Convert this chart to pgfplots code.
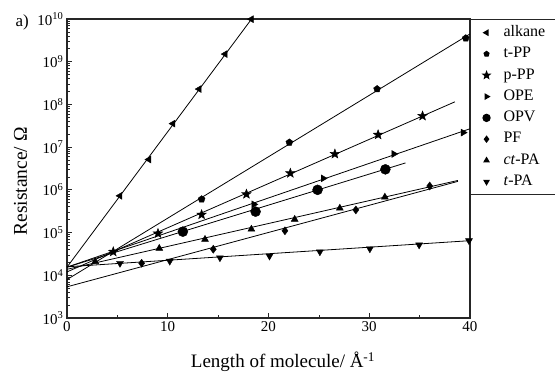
\documentclass[border=0pt]{standalone}
\usepackage{fontspec}
\setmainfont{Liberation Serif}
\usepackage{pgfplots}
\pgfplotsset{compat=1.18}
\usetikzlibrary{plotmarks}

% filled five-pointed star
\pgfdeclareplotmark{fstar}{%
  \pgfpathmoveto{\pgfpointpolar{90}{\pgfplotmarksize}}%
  \pgfpathlineto{\pgfpointpolar{126}{0.42\pgfplotmarksize}}%
  \pgfpathlineto{\pgfpointpolar{162}{\pgfplotmarksize}}%
  \pgfpathlineto{\pgfpointpolar{198}{0.42\pgfplotmarksize}}%
  \pgfpathlineto{\pgfpointpolar{234}{\pgfplotmarksize}}%
  \pgfpathlineto{\pgfpointpolar{270}{0.42\pgfplotmarksize}}%
  \pgfpathlineto{\pgfpointpolar{306}{\pgfplotmarksize}}%
  \pgfpathlineto{\pgfpointpolar{342}{0.42\pgfplotmarksize}}%
  \pgfpathlineto{\pgfpointpolar{18}{\pgfplotmarksize}}%
  \pgfpathlineto{\pgfpointpolar{54}{0.42\pgfplotmarksize}}%
  \pgfpathclose
  \pgfusepathqfillstroke}

\pgfplotsset{
  fit/.style={black, line width=0.8pt, forget plot, mark=none},
  pts/.style={only marks, draw=black, fill=black},
}
\newcommand{\lgd}[1]{\makebox[75pt][l]{#1}}

\begin{document}
\begin{tikzpicture}
\useasboundingbox (0,0) rectangle (555pt,374pt);
\begin{axis}[
  at={(67pt,56pt)}, anchor=south west,
  scale only axis, width=403pt, height=299pt,
  xmin=0, xmax=40, ymin=1e3, ymax=1e10,
  ymode=log,
  /pgf/number format/assume math mode=true,
  axis line style={black!85, line width=1.1pt},
  tick pos=left, tick align=inside,
  major tick length=5pt, minor tick length=2.5pt,
  tick style={black!85, line width=0.7pt},
  xtick={0,10,20,30,40}, xticklabels={0,10,20,30,40},
  minor xtick={5,15,25,35},
  ytick={1e3,1e4,1e5,1e6,1e7,1e8,1e9,1e10},
  yticklabels={10\textsuperscript{3},10\textsuperscript{4},10\textsuperscript{5},10\textsuperscript{6},
               10\textsuperscript{7},10\textsuperscript{8},10\textsuperscript{9},10\textsuperscript{10}},
  minor ytick={2e3,3e3,4e3,5e3,6e3,7e3,8e3,9e3,
               2e4,3e4,4e4,5e4,6e4,7e4,8e4,9e4,
               2e5,3e5,4e5,5e5,6e5,7e5,8e5,9e5,
               2e6,3e6,4e6,5e6,6e6,7e6,8e6,9e6,
               2e7,3e7,4e7,5e7,6e7,7e7,8e7,9e7,
               2e8,3e8,4e8,5e8,6e8,7e8,8e8,9e8,
               2e9,3e9,4e9,5e9,6e9,7e9,8e9,9e9},
  ticklabel style={font=\fontsize{15}{15}\selectfont},
  xlabel={Length of molecule/ Å\textsuperscript{-1}},
  ylabel={Resistance/ Ω},
  xlabel style={font=\fontsize{19}{19}\selectfont,
                at={(axis description cs:0.536,0)}, anchor=base, yshift=-50pt},
  ylabel style={font=\fontsize{19.5}{19.5}\selectfont,
                at={(axis description cs:-0.0993,0.4565)}, anchor=base},
  legend cell align=left,
  legend image code/.code={%
    \path[draw=none, fill=none] (0pt,-4pt) rectangle (16pt,4pt);
    \draw[#1, every mark/.append style={scale=0.72}] plot coordinates {(8pt,0pt)};
  },
  legend style={
    at={(rel axis cs:1,1)}, anchor=north west,
    draw=black!85, line width=1.1pt, fill=white,
    inner xsep=8pt, inner ysep=2.5pt,
    column sep=6pt, row sep=0pt,
    font=\fontsize{16}{16}\selectfont,
    nodes={inner xsep=3pt, inner ysep=3.4pt, text height=11pt, text depth=3.5pt},
  },
]

% fitted lines
\addplot[fit] coordinates {(0,1.55e4) (18.32,1e10)};
\addplot[fit] coordinates {(0,7.94e3) (40,4.47e9)};
\addplot[fit] coordinates {(0,1.20e4) (38.5,1.15e8)};
\addplot[fit] coordinates {(0,1.55e4) (40,2.69e7)};
\addplot[fit] coordinates {(0,1.55e4) (33.6,4.27e6)};
\addplot[fit] coordinates {(0,5.37e3) (38.8,1.58e6)};
\addplot[fit] coordinates {(0,1.38e4) (38.8,1.66e6)};
\addplot[fit] coordinates {(0,1.58e4) (40,6.46e4)};

% measured resistances
\addplot[pts, mark=triangle*, mark size=4pt, mark options={rotate=90}] coordinates {
  (5.26,7.24e5) (8.13,5.13e6) (10.52,3.55e7) (13.12,2.29e8) (15.70,1.51e9) (18.30,9.9e9)};
\addlegendentry{\lgd{alkane}}
\addplot[pts, mark=pentagon*, mark size=3.6pt] coordinates {
  (13.36,6.03e5) (22.07,1.29e7) (30.78,2.29e8) (39.58,3.55e9)};
\addlegendentry{\lgd{t-PP}}
\addplot[pts, mark=fstar, mark size=5pt] coordinates {
  (4.59,3.55e4) (9.03,9.55e4) (13.36,2.63e5) (17.81,7.94e5)
  (22.17,2.45e6) (26.59,6.92e6) (30.88,1.95e7) (35.29,5.37e7)};
\addlegendentry{\lgd{p-PP}}
\addplot[pts, mark=triangle*, mark size=4pt, mark options={rotate=-90}] coordinates {
  (18.55,4.57e5) (25.43,1.86e6) (32.44,6.92e6) (39.32,2.19e7)};
\addlegendentry{\lgd{OPE}}
\addplot[pts, mark=*, mark size=5pt] coordinates {
  (11.5,1.05e5) (18.72,3.09e5) (24.87,1.0e6) (31.6,3.02e6)};
\addlegendentry{\lgd{OPV}}
\addplot[pts, mark=diamond*, mark size=4pt] coordinates {
  (7.41,1.91e4) (14.52,4.07e4) (21.63,1.10e5) (28.67,3.39e5) (36.0,1.23e6)};
\addlegendentry{\lgd{PF}}
\addplot[pts, mark=triangle*, mark size=4pt] coordinates {
  (2.8,2.09e4) (9.16,4.27e4) (13.7,6.92e4) (18.3,1.20e5)
  (22.6,2.04e5) (27.08,3.72e5) (31.55,6.76e5)};
\addlegendentry{\lgd{\textit{ct}-PA}}
\addplot[pts, mark=triangle*, mark size=4pt, mark options={rotate=180}] coordinates {
  (5.26,1.91e4) (10.2,2.14e4) (15.18,2.57e4) (20.1,2.82e4)
  (25.1,3.55e4) (30.06,4.17e4) (34.95,5.13e4) (39.9,6.46e4)};
\addlegendentry{\lgd{\textit{t}-PA}}
\end{axis}
\node[anchor=base west, font=\fontsize{17}{17}\selectfont] at (12pt,347pt) {a)};
\end{tikzpicture}
\end{document}
